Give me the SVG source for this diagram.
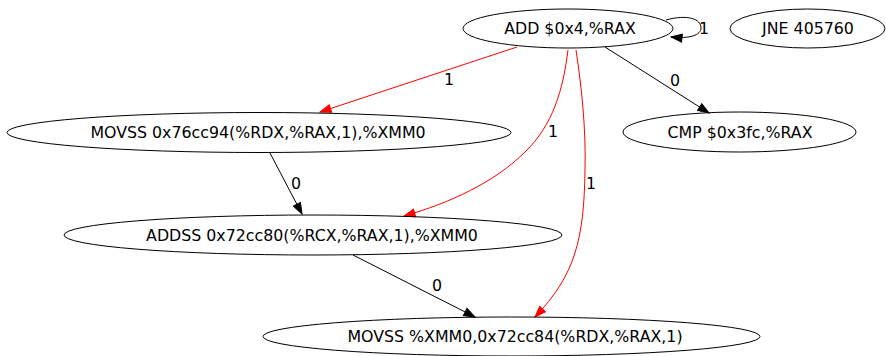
<svg xmlns="http://www.w3.org/2000/svg" width="886" height="356" viewBox="0 0 886 356">
  <style>
    .node ellipse { fill: none; stroke: #000; stroke-width: 1; }
    text { font-family: "DejaVu Sans", "Liberation Sans", sans-serif; font-size: 15.8px; fill: #000; text-anchor: middle; }
    .edge path { fill: none; stroke-width: 1; }
    .edge.black path { stroke: #000; marker-end: url(#arrow-black); }
    .edge.red path { stroke: #ff0000; marker-end: url(#arrow-red); }
  </style>
  <defs>
    <marker id="arrow-black" markerUnits="userSpaceOnUse" markerWidth="12" markerHeight="10" refX="11" refY="4" orient="auto" overflow="visible">
      <path d="M0,0 L11,4 L0,8 z" fill="#000" stroke="#000" stroke-width="1"/>
    </marker>
    <marker id="arrow-red" markerUnits="userSpaceOnUse" markerWidth="12" markerHeight="10" refX="11" refY="4" orient="auto" overflow="visible">
      <path d="M0,0 L11,4 L0,8 z" fill="#ff0000" stroke="#ff0000" stroke-width="1"/>
    </marker>
  </defs>
  <rect width="886" height="356" fill="#fff"/>

  <!-- connectors -->
  <g id="edges">
    <g class="edge black" id="e_add_add">
      <path d="M666,20 C688,14 701,19 701,28 C701,35 690,39 671,37"/>
      <text x="704" y="33.5">1</text>
    </g>
    <g class="edge red" id="e_add_movss1">
      <path d="M517,47 L320,112"/>
      <text x="449" y="84.5">1</text>
    </g>
    <g class="edge red" id="e_add_addss">
      <path d="M568,50 C563,90 553,125 525,152 C495,182 450,203 404,216"/>
      <text x="553" y="136.5">1</text>
    </g>
    <g class="edge red" id="e_add_movss2">
      <path d="M576,50 C582,90 586,130 585,170 C584,240 575,275 535,317"/>
      <text x="591" y="188.5">1</text>
    </g>
    <g class="edge black" id="e_add_cmp">
      <path d="M605,47 L709,113"/>
      <text x="675" y="85.5">0</text>
    </g>
    <g class="edge black" id="e_movss1_addss">
      <path d="M270,153 L302,214"/>
      <text x="296" y="188.5">0</text>
    </g>
    <g class="edge black" id="e_addss_movss2">
      <path d="M353,255 L475,317"/>
      <text x="437" y="290.5">0</text>
    </g>
  </g>

  <!-- nodes -->
  <g class="node" id="n_add">
    <ellipse cx="568" cy="28.5" rx="105" ry="19.5"/>
    <text x="570" y="34">ADD $0x4,%RAX</text>
  </g>
  <g class="node" id="n_jne">
    <ellipse cx="807.5" cy="28.5" rx="77.5" ry="19.5"/>
    <text x="808" y="34">JNE 405760</text>
  </g>
  <g class="node" id="n_movss1">
    <ellipse cx="259" cy="132.5" rx="252" ry="20"/>
    <text x="258" y="138">MOVSS 0x76cc94(%RDX,%RAX,1),%XMM0</text>
  </g>
  <g class="node" id="n_cmp">
    <ellipse cx="739.5" cy="132" rx="116.5" ry="20"/>
    <text x="740" y="137.5">CMP $0x3fc,%RAX</text>
  </g>
  <g class="node" id="n_addss">
    <ellipse cx="313" cy="235" rx="249" ry="20"/>
    <text x="312" y="240.5">ADDSS 0x72cc80(%RCX,%RAX,1),%XMM0</text>
  </g>
  <g class="node" id="n_movss2">
    <ellipse cx="511.5" cy="336.5" rx="248.5" ry="19.5"/>
    <text x="515" y="342">MOVSS %XMM0,0x72cc84(%RDX,%RAX,1)</text>
  </g>
</svg>
